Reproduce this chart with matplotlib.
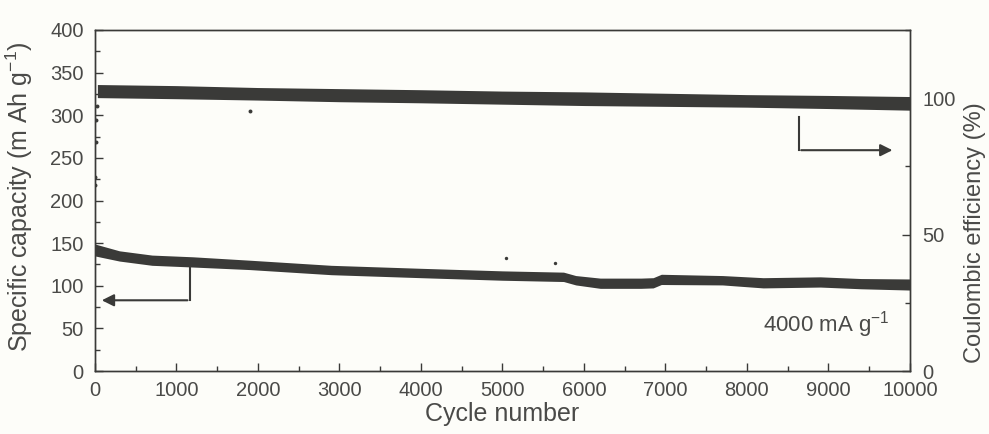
import numpy as np
import matplotlib
matplotlib.use('Agg')
import matplotlib.pyplot as plt

plt.rcParams['font.family'] = ['Liberation Sans', 'DejaVu Sans']

# Specific capacity band (left axis)
cap_cycles = [0, 300, 700, 1200, 1900, 2900, 4000, 5000, 5750, 5900, 6200, 6700, 6850, 6950, 7700, 8200, 8900, 9400, 10000]
cap_mid = [142, 135, 130, 128, 124.5, 118.5, 115, 112, 110.5, 106.5, 103, 103, 103.5, 107.5, 106.5, 103.5, 104.5, 102.5, 101.5]
cap_half = [7, 6, 6, 6, 5.5, 5.5, 5.5, 5.5, 5.5, 5.5, 6, 6, 6, 6, 5.5, 6, 6, 6, 6.5]

# Coulombic efficiency band (right axis, %)
ce_cycles = [30, 1000, 2000, 3000, 4000, 5000, 6000, 7000, 8000, 9000, 10000]
ce_mid = [102.6, 102.2, 101.6, 101.1, 100.7, 100.2, 99.8, 99.4, 99.0, 98.6, 98.1]
ce_half = [2.4, 2.4, 2.3, 2.4, 2.4, 2.4, 2.5, 2.4, 2.3, 2.4, 2.5]

# first cycles of efficiency and stray points
ce_first_cycles = [0, 5, 10, 15, 20]
ce_first_vals = [68, 71, 84, 92, 97]
ce_out_cycles = [1900]
ce_out_vals = [95.3]
cap_out_cycles = [5050, 5640]
cap_out_vals = [132, 127]

dark = '#3a3a38'
txt = '#4a4a48'

fig = plt.figure(figsize=(9.89, 4.34), dpi=100)
fig.patch.set_facecolor('#fdfdf9')
ax = fig.add_axes([0.096, 0.145, 0.824, 0.786])
ax.set_facecolor('#fdfdf9')
ax2 = ax.twinx()

cap_mid = np.array(cap_mid)
cap_half = np.array(cap_half)
ax.fill_between(cap_cycles, cap_mid - cap_half, cap_mid + cap_half, color=dark, lw=0)
ax.scatter(cap_out_cycles, cap_out_vals, s=6, color=dark, lw=0)

ce_mid = np.array(ce_mid)
ce_half = np.array(ce_half)
ax2.fill_between(ce_cycles, ce_mid - ce_half, ce_mid + ce_half, color=dark, lw=0)
ax2.scatter(ce_first_cycles, ce_first_vals, s=8, color=dark, lw=0)
ax2.scatter(ce_out_cycles, ce_out_vals, s=8, color=dark, lw=0)

ax.set_xlim(0, 10000)
ax.set_ylim(0, 400)
ax2.set_ylim(0, 125)

ax.set_xticks(np.arange(0, 10001, 1000))
ax.set_xticks(np.arange(500, 10000, 1000), minor=True)
ax.set_yticks(np.arange(0, 401, 50))
ax.set_yticks(np.arange(25, 400, 50), minor=True)
ax2.set_yticks([0, 50, 100])
ax2.set_yticks([25, 75, 125], minor=True)

for a in (ax, ax2):
    a.tick_params(direction='in', which='major', length=6, width=1, colors=dark, labelcolor=txt, labelsize=14.5)
    a.tick_params(direction='in', which='minor', length=3.5, width=1, colors=dark)
    for s in a.spines.values():
        s.set_color(dark)
        s.set_linewidth(1)
ax.tick_params(axis='x', pad=7)
ax.tick_params(axis='y', pad=8)
ax2.tick_params(axis='y', pad=9)

ax.set_xlabel('Cycle number', fontsize=18, color=txt)
ax.xaxis.set_label_coords(0.5, -0.09)
ax.set_ylabel('Specific capacity (m Ah g$^{\\mathregular{-1}}$)', fontsize=18, color=txt)
ax.yaxis.set_label_coords(-0.074, 0.51)
ax2.set_ylabel('Coulombic efficiency (%)', fontsize=17, color=txt)
ax2.yaxis.set_label_coords(1.066, 0.405)

# arrows pointing to the axes
ax.plot([1166, 1166], [128, 83], color=dark, lw=1.5)
ax.annotate('', xy=(50, 83), xytext=(1170, 83),
            arrowprops=dict(arrowstyle='-|>', color=dark, lw=1.5, mutation_scale=18))
ax.plot([8640, 8640], [298, 259], color=dark, lw=1.5)
ax.annotate('', xy=(9820, 259), xytext=(8632, 259),
            arrowprops=dict(arrowstyle='-|>', color=dark, lw=1.5, mutation_scale=18))

ax.text(8200, 54, '4000 mA g$^{\\mathregular{-1}}$', fontsize=16, color=txt, va='center')

fig.savefig('out.png', dpi=100, facecolor=fig.get_facecolor())
